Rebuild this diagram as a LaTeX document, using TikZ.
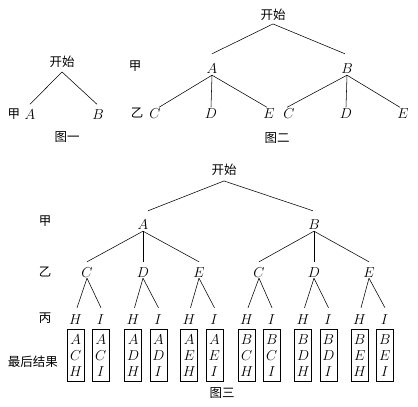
\documentclass[tikz,border=0pt]{standalone}
\usepackage{fontspec}
\newfontfamily\cjk{Noto Sans CJK SC}
\begin{document}
\begin{tikzpicture}[x=1pt,y=-1pt,
  lt/.style={font=\fontsize{14.5}{16}\selectfont, text height=10pt, text depth=0pt, inner sep=0pt},
  cn/.style={font=\cjk\fontsize{12.5}{14}\selectfont, text height=10.5pt, text depth=2pt, inner sep=0pt},
  rbox/.style={draw, line width=0.6pt, font=\fontsize{14.5}{16}\selectfont, align=center, minimum width=17pt, minimum height=52pt, inner sep=0pt},
  ed/.style={line width=0.55pt}]
\useasboundingbox (0,0) rectangle (418,407);
% ---------- Figure 1
\node[cn] (r1) at (62,62) {开始};
\node[lt] (a1) at (30,114) {$A$};
\node[lt] (b1) at (98,114) {$B$};
\node[cn] (j1) at (14,114) {甲};
\node[cn] (t1) at (67,137) {图一};
\draw[ed] ([yshift=-3.5]r1.south) -- ([yshift=4.5]a1.north);
\draw[ed] ([yshift=-3.5]r1.south) -- ([yshift=4.5,xshift=-1]b1.north);
% ---------- Figure 2
\node[cn] (r2) at (273,15) {开始};
\node[lt] (a2) at (212,68) {$A$};
\node[lt] (b2) at (347,68) {$B$};
\node[cn] (j2) at (135,66) {甲};
\node[cn] (y2) at (137,113) {乙};
\node[lt] (c2a) at (155,113) {$C$};
\node[lt] (d2a) at (211,113) {$D$};
\node[lt] (e2a) at (269,113) {$E$};
\node[lt] (c2b) at (289,113) {$C$};
\node[lt] (d2b) at (346,113) {$D$};
\node[lt] (e2b) at (403,113) {$E$};
\node[cn] (t2) at (277,138) {图二};
\draw[ed] ([yshift=-2.5]r2.south) -- ([yshift=9]a2.north);
\draw[ed] ([yshift=-2.5]r2.south) -- ([yshift=9,xshift=-2]b2.north);
\foreach \p/\c/\dx in {a2/c2a/4,a2/d2a/0,a2/e2a/-2,b2/c2b/-2,b2/d2b/0,b2/e2b/-3}
  \draw[ed] ([yshift=-2]\p.south) -- ([yshift=0.5,xshift=\dx]\c.north);
% ---------- Figure 3
\node[cn] (r3) at (224,170) {开始};
\node[lt] (a3) at (143,224) {$A$};
\node[lt] (b3) at (314,224) {$B$};
\node[cn] (j3) at (45,221) {甲};
\node[cn] (y3) at (45,272) {乙};
\node[cn] (bi3) at (45,318) {丙};
\node[cn] (z3) at (33,362) {最后结果};
\node[cn] (t3) at (222,393) {图三};
\draw[ed] ([yshift=-4.5]r3.south) -- ([yshift=8,xshift=5]a3.north);
\draw[ed] ([yshift=-4.5]r3.south) -- ([yshift=8,xshift=-1]b3.north);
\foreach \n/\L/\x in {c3a/C/87,d3a/D/143,e3a/E/199,c3b/C/259,d3b/D/314,e3b/E/369}
  \node[lt] (\n) at (\x,272) {$\L$};
\foreach \p/\c in {a3/c3a,a3/d3a,a3/e3a,b3/c3b,b3/d3b,b3/e3b}
  \draw[ed] ([yshift=-2]\p.south) -- ([yshift=5]\c.north);
\foreach \n/\x/\P/\Q [count=\i] in {c3a/88/A/C,d3a/145.5/A/D,e3a/201.5/A/E,c3b/259/B/C,d3b/315.5/B/D,e3b/372/B/E}{
  \node[lt] (h\i) at (\x-12.5,319) {$H$};
  \node[lt] (i\i) at (\x+12.5,319) {$I$};
  \draw[ed] ([yshift=-1]\n.south) -- ([yshift=6,xshift=1.5]h\i.north);
  \draw[ed] ([yshift=-1]\n.south) -- ([yshift=6,xshift=0.5]i\i.north);
  \node[rbox] (bh\i) at (\x-12.3,355.5) {$\P$\\$\Q$\\$H$};
  \node[rbox] (bi\i) at (\x+12.8,355.5) {$\P$\\$\Q$\\$I$};
}
\end{tikzpicture}
\end{document}
